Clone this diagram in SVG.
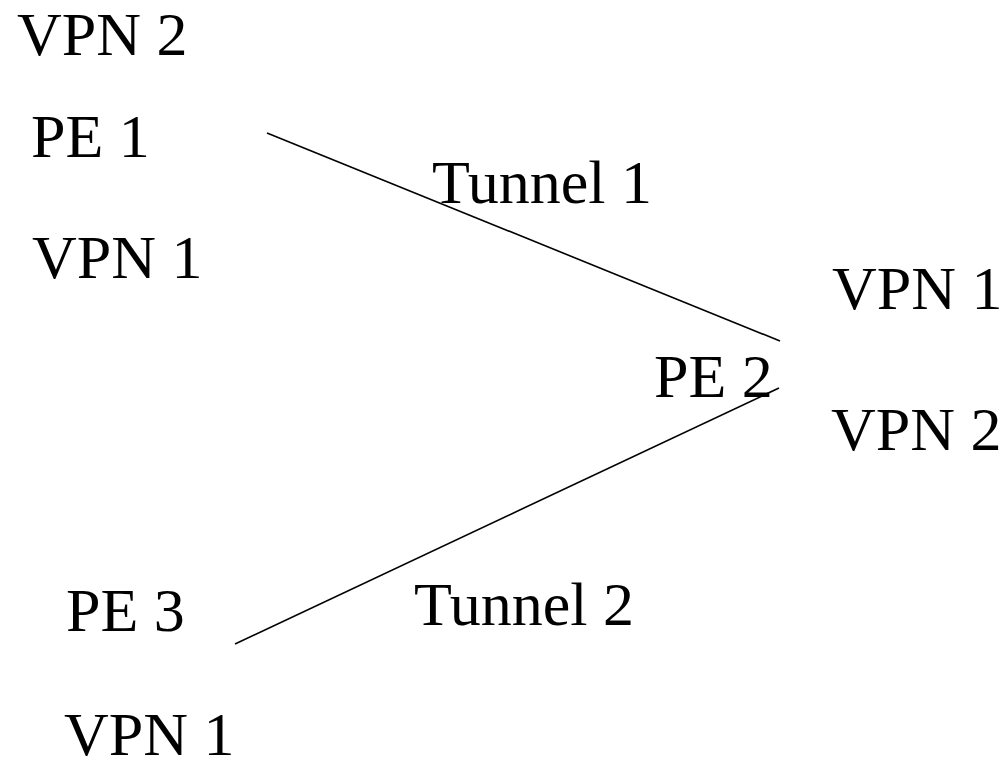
<svg xmlns="http://www.w3.org/2000/svg" width="1007" height="760" viewBox="0 0 1007 760">
<style>
text{font-family:"Liberation Serif","Times New Roman",serif;font-size:62px;fill:#000}
.c{stroke:#000;stroke-width:1.6;fill:none}
</style>
<rect width="1007" height="760" fill="#fff"/>
<g id="connectors">
<line class="c" x1="267" y1="133" x2="780" y2="341"/>
<line class="c" x1="235" y1="644" x2="779" y2="388"/>
</g>
<g id="pe1">
<text x="17" y="55">VPN 2</text>
<text x="31" y="157">PE 1</text>
<text x="32" y="278">VPN 1</text>
</g>
<g id="pe2">
<text x="654" y="397">PE 2</text>
<text x="832" y="309">VPN 1</text>
<text x="831" y="450">VPN 2</text>
</g>
<g id="pe3">
<text x="66" y="631">PE 3</text>
<text x="64" y="755">VPN 1</text>
</g>
<g id="labels">
<text x="432" y="203">Tunnel 1</text>
<text x="414" y="625">Tunnel 2</text>
</g>
</svg>
